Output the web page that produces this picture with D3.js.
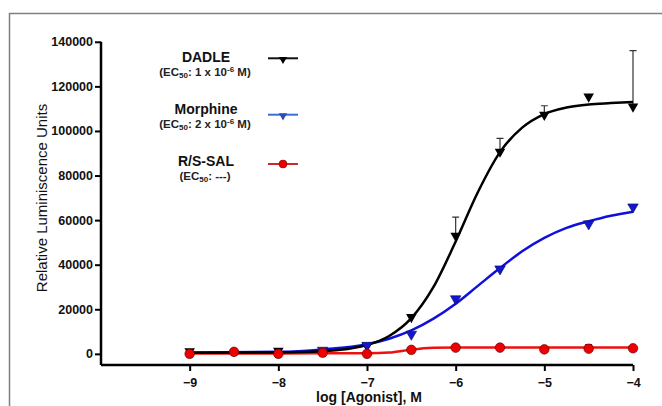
<!DOCTYPE html>
<html>
<head>
<meta charset="utf-8">
<script src="https://cdn.jsdelivr.net/npm/d3@7"></script>
<style>
  body { margin: 0; background: #fff; }
  svg { display: block; font-family: "Liberation Sans", Arial, sans-serif; }
</style>
</head>
<body>
<svg id="svg" width="662" height="406"></svg>
<script>
// x ticks (log M) and y ticks
var xTicks = [-9, -8, -7, -6, -5, -4];
var yTicks = [0, 20000, 40000, 60000, 80000, 100000, 120000, 140000];

// measured points (mean, error bar top or null)
var dadleX   = [-9, -8, -7, -6.5, -6, -5.5, -5, -4.5, -4];
var dadleY   = [1200, 1400, 3600, 16500, 53000, 90700, 107200, 115400, 110900];
var dadleErr = [null, null, null, null, 61300, 96700, 111300, null, 136000];

var morphX   = [-7.5, -7, -6.5, -6, -5.5, -4.5, -4];
var morphY   = [1600, 3800, 8800, 24700, 38100, 58300, 65900];

var salX     = [-9, -8.5, -8, -7.5, -7, -6.5, -6, -5.5, -5, -4.5, -4];
var salY     = [0, 900, 0, 500, 0, 1800, 2800, 2800, 2000, 2300, 2500];
var salErr   = [null, null, null, null, null, null, null, null, null, 4200, null];

// fitted curves
var dadleFitX = [-9, -8, -7.5, -7, -6.75, -6.5, -6.25, -6, -5.75, -5.5, -5.25, -5, -4.75, -4.5, -4.25, -4];
var dadleFitY = [500, 650, 1200, 4000, 8000, 16000, 30000, 50400, 72500, 90500, 101500, 107600, 110500, 111900, 112500, 113000];
var morphFitX = [-9, -8, -7.5, -7, -6.75, -6.5, -6.25, -6, -5.75, -5.5, -5.25, -5, -4.75, -4.5, -4.25, -4];
var morphFitY = [600, 900, 2000, 4300, 6800, 10500, 15800, 22500, 30500, 38500, 46000, 52000, 56500, 59500, 62000, 63800];
var salFitX   = [-9, -8, -7, -6.75, -6.5, -6.25, -6, -5, -4];
var salFitY   = [200, 200, 300, 600, 1900, 2700, 2900, 2900, 2900];

var svg = d3.select("svg");

// frame
svg.append("path")
    .attr("d", "M9.5,406 V13.5 H662")
    .attr("fill", "none")
    .attr("stroke", "#808080")
    .attr("stroke-width", 1.5);

var x = d3.scaleLinear().domain([-10, -4]).range([101, 633]);
var y = d3.scaleLinear().domain([-5000, 140000]).range([365, 41.8]);

// axes
var xAxis = svg.append("g")
    .attr("transform", "translate(0,365)")
    .call(d3.axisBottom(x).tickValues(xTicks).tickSize(6).tickPadding(7).tickFormat(d3.format("d")));
var yAxis = svg.append("g")
    .attr("transform", "translate(101,0)")
    .call(d3.axisLeft(y).tickValues(yTicks).tickSize(6).tickPadding(2).tickFormat(d3.format("d")));

[xAxis, yAxis].forEach(function (a) {
    a.select(".domain").attr("stroke", "#000").attr("stroke-width", 2.5);
    a.selectAll(".tick line").attr("stroke", "#000").attr("stroke-width", 2);
    a.selectAll(".tick text")
        .attr("fill", "#111")
        .style("font-size", "12.5px")
        .style("font-weight", "bold")
        .style("font-family", "'Liberation Sans', Arial, sans-serif");
});
xAxis.select(".domain").attr("d", "M101,0H633");
yAxis.select(".domain").attr("d", "M0," + y(140000) + "V365");

// axis titles
svg.append("text")
    .attr("x", 369)
    .attr("y", 402)
    .attr("text-anchor", "middle")
    .style("font-size", "14px")
    .style("font-weight", "bold")
    .attr("fill", "#111")
    .text("log [Agonist], M");

svg.append("text")
    .attr("transform", "translate(47,198) rotate(-90)")
    .attr("text-anchor", "middle")
    .style("font-size", "15px")
    .attr("fill", "#111")
    .text("Relative Luminiscence Units");

var line = d3.line()
    .x(function (d) { return x(d[0]); })
    .y(function (d) { return y(d[1]); })
    .curve(d3.curveMonotoneX);

function zip(a, b) {
    return a.map(function (v, i) { return [v, b[i]]; });
}

var tri = d3.symbol().type(d3.symbolTriangle).size(48);

function errBars(xs, ys, errs) {
    xs.forEach(function (xv, i) {
        if (errs[i] == null) return;
        var px = x(xv);
        svg.append("path")
            .attr("d", "M" + px + "," + y(ys[i]) + "V" + y(errs[i]) + "M" + (px - 3.5) + "," + y(errs[i]) + "H" + (px + 3.5))
            .attr("stroke", "#333")
            .attr("stroke-width", 1.2)
            .attr("fill", "none");
    });
}

// error bars behind
errBars(dadleX, dadleY, dadleErr);
errBars(salX, salY, salErr);

// curves
svg.append("path").datum(zip(salFitX, salFitY))
    .attr("d", line).attr("fill", "none").attr("stroke", "#ee1111").attr("stroke-width", 2.5);
svg.append("path").datum(zip(morphFitX, morphFitY))
    .attr("d", line).attr("fill", "none").attr("stroke", "#1010dd").attr("stroke-width", 2.5);
svg.append("path").datum(zip(dadleFitX, dadleFitY))
    .attr("d", line).attr("fill", "none").attr("stroke", "#000").attr("stroke-width", 2.5);

// markers
svg.selectAll(".dadle").data(zip(dadleX, dadleY)).enter().append("path")
    .attr("transform", function (d) { return "translate(" + x(d[0]) + "," + y(d[1]) + ") rotate(180)"; })
    .attr("d", tri).attr("fill", "#000");
svg.selectAll(".morph").data(zip(morphX, morphY)).enter().append("path")
    .attr("transform", function (d) { return "translate(" + x(d[0]) + "," + y(d[1]) + ") rotate(180)"; })
    .attr("d", tri).attr("fill", "#1515cc").attr("stroke", "#001060").attr("stroke-width", 0.6);
svg.selectAll(".sal").data(zip(salX, salY)).enter().append("circle")
    .attr("cx", function (d) { return x(d[0]); })
    .attr("cy", function (d) { return y(d[1]); })
    .attr("r", 4.8)
    .attr("fill", "#ee0000").attr("stroke", "#550000").attr("stroke-width", 0.6);

// legend
var legNames = ["DADLE", "Morphine", "R/S-SAL"];
var legEc = [["1 x 10", "-6", " M)"], ["2 x 10", "-6", " M)"], ["---)", null, null]];
var legColors = ["#111", "#3a6fd8", "#cc2a2a"];
var legTop = [62, 114, 166];
var legLineY = [58.3, 114.7, 164];

legNames.forEach(function (n, i) {
    svg.append("text")
        .attr("x", 206).attr("y", legTop[i])
        .attr("text-anchor", "middle")
        .style("font-size", "14px").style("font-weight", "bold")
        .attr("fill", "#111")
        .text(n);
    var t = svg.append("text")
        .attr("x", 205).attr("y", legTop[i] + 14)
        .attr("text-anchor", "middle")
        .style("font-size", "11.5px").style("font-weight", "bold")
        .attr("fill", "#222");
    t.append("tspan").text("(EC");
    t.append("tspan").attr("dy", 2).style("font-size", "8px").text("50");
    t.append("tspan").attr("dy", -2).text(": " + legEc[i][0]);
    if (legEc[i][1]) {
        t.append("tspan").attr("dy", -4).style("font-size", "8px").text(legEc[i][1]);
        t.append("tspan").attr("dy", 4).text(legEc[i][2]);
    }

    svg.append("line")
        .attr("x1", 268).attr("x2", 298)
        .attr("y1", legLineY[i]).attr("y2", legLineY[i])
        .attr("stroke", legColors[i]).attr("stroke-width", 2);
    if (i < 2) {
        svg.append("path")
            .attr("transform", "translate(283," + (legLineY[i] + 1) + ") rotate(180)")
            .attr("d", d3.symbol().type(d3.symbolTriangle).size(30))
            .attr("fill", i === 0 ? "#000" : "#2a4fb8");
    } else {
        svg.append("circle").attr("cx", 283).attr("cy", legLineY[i]).attr("r", 4)
            .attr("fill", "#ee0000").attr("stroke", "#600").attr("stroke-width", 0.5);
    }
});
</script>
</body>
</html>
